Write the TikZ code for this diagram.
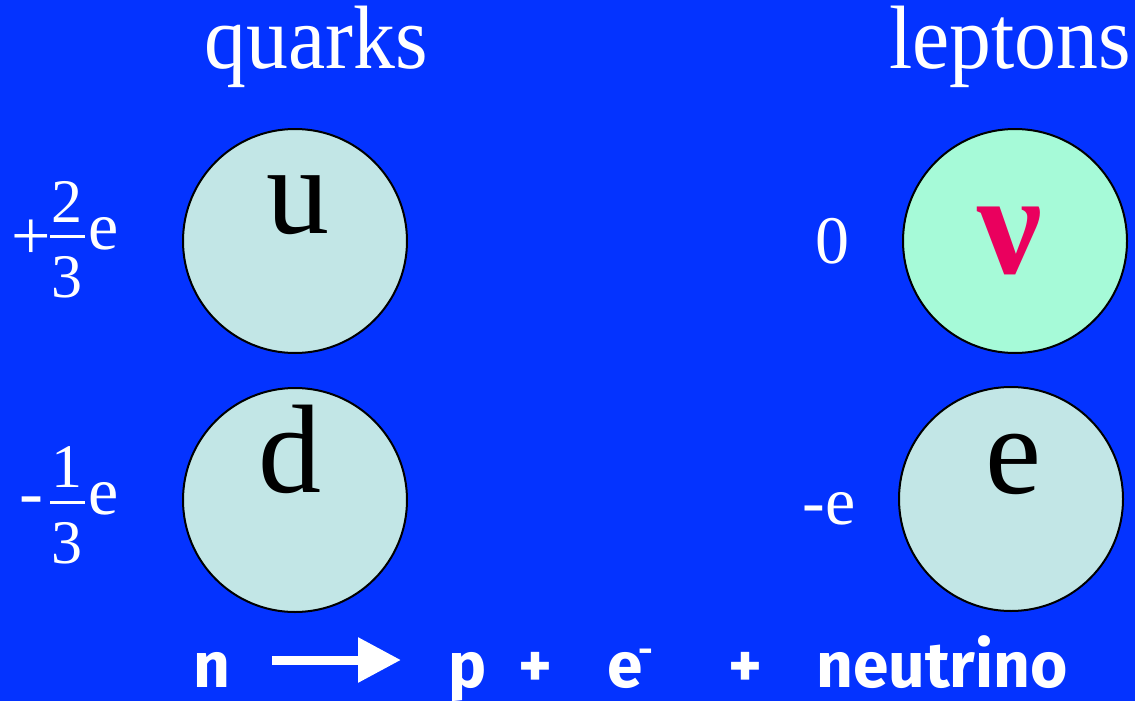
\documentclass[tikz,border=0pt]{standalone}
\usepackage{fontspec}
\setmainfont{Liberation Serif}
\newfontfamily\bottomfont{Fira Sans}
\usetikzlibrary{arrows.meta}
\definecolor{bg}{RGB}{4,51,255}
\definecolor{pfill}{RGB}{194,230,230}
\definecolor{nufill}{RGB}{166,250,216}
\definecolor{nured}{RGB}{234,0,94}
\newcommand{\fs}[1]{\fontsize{#1}{#1}\selectfont}
\begin{document}
\begin{tikzpicture}[x=1pt,y=-1pt,
  particle/.style={circle,draw=black,line width=2pt,inner sep=0pt,minimum size=224pt},
  bigletter/.style={anchor=base,inner sep=0pt,text=black,font=\fs{126}},
  title/.style={anchor=base,inner sep=0pt,text=white,font=\fs{90},xscale=0.93},
  charge/.style={anchor=base,inner sep=0pt,text=white,font=\fs{68}},
  digit/.style={anchor=base,inner sep=0pt,text=white,font=\fs{62}},
  bottom/.style={anchor=base,inner sep=0pt,text=white,font=\bottomfont\bfseries\fs{64}}]
\fill[bg] (0,0) rectangle (1135,701);
\useasboundingbox (0,0) rectangle (1135,701);

% titles
\node[title] (tq) at (316,69) {quarks};
\node[title] (tl) at (1010,69) {leptons};

% circles
\node[particle,fill=pfill] (cu) at (295,241) {};
\node[particle,fill=pfill] (cd) at (295,500) {};
\node[particle,fill=nufill] (cnu) at (1015,241) {};
\node[particle,fill=pfill] (ce) at (1011,499) {};

% letters
\node[bigletter] (lu) at (298,233) {u};
\node[bigletter] (ld) at (290,492) {d};
\node[bigletter] (le) at (1013,493) {e};
\node[anchor=base,inner sep=0pt,text=nured,font=\bfseries\fs{145}] (lnu) at (1010,273) {ν};

% lepton charges
\node[charge] (q0) at (832,263) {0};
\node[charge] (qe) at (829,524) {-e};

% quark charges
\node[anchor=center,inner sep=0pt,text=white,font=\fs{70}] (pl) at (31,240) {+};
\node[digit] (n2) at (67,222) {2};
\node[digit] (d3a) at (67,297) {3};
\node[charge] (e1) at (104,249) {e};
\draw[white,line width=3pt] (50,236) -- (85,236);

\node[anchor=center,inner sep=0pt,text=white,font=\fs{72}] (mi) at (31,507) {-};
\node[digit] (n1) at (67,487) {1};
\node[digit] (d3b) at (67,563) {3};
\node[charge] (e2) at (104,514) {e};
\draw[white,line width=3pt] (50,502) -- (85,502);

% bottom equation
\node[bottom] (bn) at (212,687) {n};
\coordinate (arS) at (272,660);
\coordinate (arE) at (401,660);
\draw[white,line width=9pt,-{Triangle[length=43pt,width=43pt]}] (arS) -- (arE);
\node[bottom] (bp) at (468,687) {p};
\node[bottom] (bplus1) at (535,687) {+};
\node[bottom] (be) at (625,687) {e};
\node[anchor=center,inner sep=0pt,text=white,font=\bottomfont\bfseries\fs{36}] (bminus) at (646,656) {-};
\node[bottom] (bplus2) at (745,687) {+};
\node[bottom] (bnu) at (942,687) {neutrino};
\end{tikzpicture}
\end{document}
